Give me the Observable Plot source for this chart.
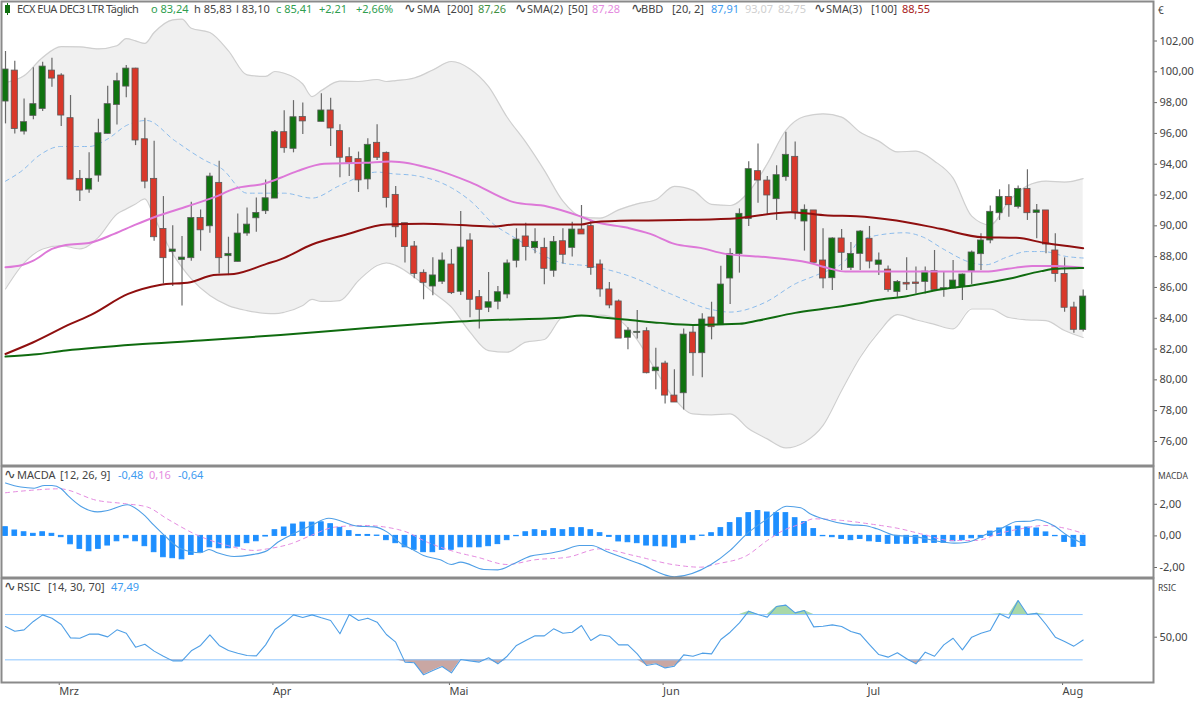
<!DOCTYPE html>
<html><head><meta charset="utf-8">
<script src="https://cdn.jsdelivr.net/npm/d3@7"></script>
<script src="https://cdn.jsdelivr.net/npm/@observablehq/plot@0.6"></script>
<style>
html,body{margin:0;padding:0;background:#fff;}
#root{position:relative;width:1200px;height:701px;overflow:hidden;font-family:"Noto Sans",sans-serif;}
#root svg{position:absolute;left:0;}
.lg{position:absolute;top:2px;left:0;width:1150px;height:14px;font-size:11px;line-height:14px;color:#444;white-space:nowrap;z-index:3;}
.lg span{position:absolute;top:0;}
.lg span.ic{font-family:'DejaVu Sans';font-size:14px;line-height:13px;}
.unit{position:absolute;left:1158px;font-size:8.5px;color:#444;z-index:3;}
</style></head><body>
<div id="root">
<div class="lg">
<i style="position:absolute;left:5px;top:3px;width:5px;height:8px;background:#107010;"></i>
<i style="position:absolute;left:7px;top:1px;width:1px;height:12px;background:#107010;"></i>
<span style="left:17px;letter-spacing:-0.52px">ECX EUA DEC3 LTR Täglich</span>
<span style="left:151px;color:#2f9e4f">o 83,24</span>
<span style="left:194px">h 85,83</span>
<span style="left:236px">l 83,10</span>
<span style="left:276px;color:#2f9e4f">c 85,41</span>
<span style="left:319px;color:#2f9e4f">+2,21</span>
<span style="left:356px;color:#2f9e4f">+2,66%</span>
<span class="ic" style="left:404px">∿</span><span style="left:417px">SMA</span><span style="left:447px">[200]</span><span style="left:478px;color:#3f8f3f">87,26</span>
<span class="ic" style="left:515px">∿</span><span style="left:527px">SMA(2)</span><span style="left:568px">[50]</span><span style="left:592px;color:#e58be0">87,28</span>
<span class="ic" style="left:631px">∿</span><span style="left:641px">BBD</span><span style="left:672px">[20, 2]</span><span style="left:711px;color:#3d9bf0">87,91</span><span style="left:745px;color:#cfcfcf">93,07</span><span style="left:778px;color:#cfcfcf">82,75</span>
<span class="ic" style="left:814px">∿</span><span style="left:826px">SMA(3)</span><span style="left:871px">[100]</span><span style="left:902px;color:#a82020">88,55</span>
</div>
<div class="lg" style="top:468px">
<span class="ic" style="left:4px">∿</span><span style="left:17px">MACDA</span><span style="left:60px">[12, 26, 9]</span><span style="left:118px;color:#3d9bf0">-0,48</span><span style="left:149px;color:#e58be0">0,16</span><span style="left:178px;color:#3d9bf0">-0,64</span>
</div>
<div class="lg" style="top:580px">
<span class="ic" style="left:4px">∿</span><span style="left:17px">RSIC</span><span style="left:48px">[14, 30, 70]</span><span style="left:111px;color:#3d9bf0">47,49</span>
</div>
<div class="unit" style="top:3px;font-size:10px">€</div>
<div class="unit" style="top:470px">MACDA</div>
<div class="unit" style="top:582px">RSIC</div>
</div>
<script>
const opens=[98.07,100.08,96.12,97.14,97.59,100.08,99.76,96.99,93.05,92.35,93.26,95.97,97.85,99.04,100.21,95.62,93.05,89.80,88.31,87.79,87.90,90.51,89.97,92.79,88.03,87.66,89.50,90.49,90.95,91.77,96.08,95.00,97.06,null,96.75,97.49,96.15,94.46,94.33,93.01,95.39,94.74,92.01,90.17,88.66,86.95,86.06,86.37,87.49,85.72,89.05,85.37,84.68,85.07,85.54,87.73,89.31,88.55,88.57,87.08,89.00,88.57,89.76,89.98,87.49,85.87,85.09,82.73,83.05,83.16,80.56,81.06,78.98,79.13,83.07,81.73,84.05,83.55,86.58,88.16,90.45,93.55,92.94,91.73,93.16,94.48,90.28,91.00,87.75,86.60,89.18,87.27,88.18,89.16,87.47,87.16,85.71,86.30,86.32,86.36,87.06,85.87,85.93,86.02,87.06,88.16,89.05,90.82,91.88,91.23,92.40,90.84,91.00,88.40,86.88,84.70,83.24];
const highs=[101.32,100.69,98.24,100.26,100.62,100.88,99.87,98.46,93.59,94.74,96.92,99.06,99.91,100.41,100.23,96.99,95.49,91.90,90.00,89.30,91.53,91.03,93.42,94.19,89.26,90.77,91.16,91.81,92.98,96.19,97.48,98.13,97.98,null,98.57,98.28,96.56,95.07,94.79,95.65,96.56,94.79,92.56,90.17,88.98,87.14,87.92,88.23,88.46,90.93,89.48,85.80,86.97,86.06,87.79,89.81,90.17,89.81,89.20,89.31,89.81,90.24,91.32,90.35,87.79,86.32,85.19,83.38,84.50,83.38,82.06,81.21,80.65,83.31,83.49,84.29,85.04,87.38,88.51,91.10,94.16,95.32,93.20,93.90,96.08,95.45,91.36,91.00,89.81,89.22,89.76,88.92,89.70,89.96,88.23,87.40,86.45,87.92,87.32,87.32,88.40,86.99,87.75,86.88,88.36,89.48,91.28,92.34,92.66,92.58,93.64,91.39,91.00,89.48,87.92,85.04,85.83];
const lows=[96.62,95.97,95.90,96.88,97.42,99.00,96.45,93.00,91.58,92.12,92.83,95.97,96.55,98.31,95.21,92.40,89.00,86.23,86.06,84.80,87.70,88.35,89.52,86.88,86.77,87.66,89.32,89.58,90.73,91.77,94.71,94.74,95.93,null,96.75,95.15,93.12,93.20,92.17,92.34,94.24,91.15,89.22,87.58,86.56,85.20,85.46,86.19,85.54,85.48,84.03,83.31,84.37,84.55,85.26,87.27,87.71,88.18,86.17,86.67,87.53,87.97,89.44,86.80,85.37,84.61,82.68,81.95,82.66,80.39,79.35,78.44,78.53,78.05,80.24,80.13,82.60,83.55,84.89,86.93,89.96,91.47,90.67,90.35,92.90,90.39,88.36,87.60,85.91,85.80,87.10,87.10,87.10,87.21,86.78,85.69,85.37,85.80,85.58,85.58,85.80,85.37,85.91,85.15,86.19,87.10,88.83,90.35,90.56,91.10,90.35,89.16,88.18,86.34,84.39,83.03,83.10];
const closes=[100.15,96.29,96.73,97.90,100.34,99.56,97.16,93.00,92.29,93.05,96.01,97.90,99.39,100.21,95.54,92.87,89.26,87.90,88.46,87.94,90.51,89.71,93.20,87.90,88.18,89.50,90.08,90.84,91.79,96.08,95.04,97.05,96.78,null,97.49,96.32,94.42,94.09,92.95,95.26,94.42,91.80,89.91,88.62,86.88,86.30,86.78,87.75,85.63,88.59,85.20,84.55,85.04,85.69,87.56,89.11,88.62,88.96,87.21,88.96,88.12,89.76,89.44,87.27,85.87,84.83,82.68,83.20,83.12,80.43,80.80,78.98,78.53,82.94,81.73,83.92,83.42,86.19,88.18,90.78,93.68,92.94,91.97,93.29,94.61,90.89,91.04,87.60,86.58,89.18,88.25,88.18,89.63,87.68,87.75,85.84,86.36,86.19,86.23,87.03,85.84,85.95,86.45,86.84,88.27,89.05,90.91,91.88,91.34,92.40,90.82,91.00,88.79,86.88,84.68,83.25,85.41];

const sma200Idx=[0,3,6.5,14,21,29.6,37,44,51,59.7,62,64,67,70.5,74,79,81,85,88.5,92,93.5,97,100.6,104,108,111.5,113,115,116];
const sma200=[81.51,81.64,81.90,82.29,82.55,82.92,83.27,83.59,83.85,84.03,84.18,84.07,83.90,83.70,83.57,83.64,83.85,84.35,84.65,84.98,85.15,85.43,85.87,86.13,86.56,87.06,87.21,87.25,87.26];
const sma50Idx=[0,1.8,3,5,6.5,9,11.7,14,16,19.6,22.5,24.6,28,29.6,31.4,34.3,38.6,41.5,46,50,54.7,58.3,61.8,63.3,67,69.4,72,74.8,77.5,81,86.5,88.6,90.4,92,105.5,107.9,110.5,113,116];
const sma50=[87.31,87.46,87.74,88.50,88.76,88.89,89.48,90.08,90.56,91.27,91.86,92.40,92.77,93.12,93.55,94.03,94.09,94.18,93.70,92.84,91.54,91.26,90.63,90.28,89.87,89.48,88.83,88.57,88.18,88.01,87.60,87.25,87.03,87.03,87.03,87.21,87.40,87.40,87.28];
const sma100Idx=[0,3,7,9.2,13.2,16.6,19.9,22.4,24.6,28.1,29.6,33,36.6,41,45,49,52.6,54.7,62,63.3,68,73.7,78.8,84.5,88.5,91.6,95.9,100.6,105.2,108.8,112,114.5,116];
const sma100=[81.68,82.44,83.63,84.22,85.58,86.16,86.34,86.81,86.88,87.53,87.82,88.79,89.42,90.09,90.13,90.05,89.96,90.09,90.09,90.24,90.35,90.39,90.50,90.89,90.67,90.63,90.35,89.81,89.26,89.22,88.87,88.68,88.55];
const bbMidIdx=[0,1.8,3.6,5.9,9,11,13,15.2,18.2,21.5,23.3,26,30,33,36,40,41.7,44,48,50.2,52.5,54.7,60,63,67,71.6,75.7,78,81.8,85,87.6,90.4,91.8,94.2,96.8,98.8,100.9,103.8,105.5,107.8,110,111.7,114.2,116];
const bbMid=[92.90,93.59,94.56,95.15,95.15,95.64,96.51,96.84,95.54,94.24,93.70,92.12,92.12,91.80,92.62,93.49,93.38,93.27,92.47,91.54,90.13,89.27,87.58,87.38,86.77,85.58,84.61,84.40,85.04,86.23,86.88,87.75,88.94,89.42,89.55,89.26,88.51,87.64,87.47,87.97,88.33,88.33,88.01,87.91];

const bandIdx=[0,2,4,6,8,10,12,13,14,15,16,18,19,20,22,24,26,28,29,30,32,33,34,36,38,40,41,42,44,46,48,50,52,54,56,58,60,62,64,66,68,70,72,74,76,78,80,82,84,86,88,90,92,94,96,98,100,102,104,106,108,110,112,114,116];
const bandUpper=[99.3,99.74,100.93,101.64,101.62,101.49,101.69,102.16,102.01,101.84,102.55,103.37,103.42,102.83,102.55,101.36,99.8,99.7,100.02,99.91,99.21,98.39,98.78,99.39,99.37,99.5,99.37,99.43,99.6,100.12,100.67,100.19,99.04,97.05,95.43,93.6,91.6,90.6,90.5,91.04,91.43,91.69,92.56,92.3,91.39,91.32,92.2,94.03,96.19,97.1,97.27,97.06,96.08,95.5,94.8,94.85,94.2,93.1,90.63,90.05,91.6,92.6,92.9,92.84,93.07];
const bandLower=[85.9,87.59,88.5,88.72,88.5,89.26,90.77,91.1,91.42,91.75,90.56,88.18,87.3,86.55,85.47,84.82,84.5,84.32,84.3,84.39,84.83,85.22,85.09,85.15,86.45,87.43,87.6,87.43,86.67,85.69,84.72,83.1,81.9,81.8,82.45,82.62,84.07,84.15,84.2,83.9,82.6,80.6,78.77,77.79,77.73,77.79,76.82,76.17,75.58,75.95,77.04,79.31,81.47,83.1,84.24,83.9,83.6,83.31,84.6,84.6,84.05,83.9,83.85,83.2,82.75];

const macdHist=[0.55,0.34,0.23,0.13,0.23,0.13,-0.08,-0.53,-0.82,-0.97,-0.82,-0.61,-0.34,-0.15,-0.34,-0.65,-1.03,-1.35,-1.41,-1.48,-1.20,-1.05,-0.72,-0.78,-0.78,-0.68,-0.46,-0.34,-0.04,0.36,0.53,0.72,0.84,0.84,0.86,0.74,0.51,0.30,0.06,0.06,0.02,-0.27,-0.46,-0.72,-0.88,-1.03,-1.03,-0.88,-0.88,-0.72,-0.72,-0.72,-0.65,-0.52,-0.27,-0.02,0.23,0.36,0.30,0.43,0.36,0.49,0.49,0.36,0.17,-0.06,-0.35,-0.40,-0.46,-0.61,-0.65,-0.67,-0.75,-0.46,-0.27,0.02,0.17,0.49,0.81,1.12,1.44,1.57,1.48,1.44,1.44,1.12,0.87,0.43,-0.02,-0.08,-0.19,-0.27,-0.19,-0.34,-0.38,-0.50,-0.50,-0.50,-0.50,-0.44,-0.44,-0.44,-0.34,-0.27,-0.15,-0.12,0.27,0.47,0.55,0.59,0.53,0.47,0.22,-0.02,-0.38,-0.69,-0.64];
const macdIdx=[0,1.65,3.1,4.2,5,6,6.7,8.1,9.9,11,13.1,14.9,16,17.1,18.9,21,21.9,22.8,24.6,26.4,28.2,29.3,31,32.9,34.8,37.9,39.7,41.1,42.6,44,45,46.8,48,49,51.5,53,54.7,56.5,58.2,60,61.8,63.1,64.7,68.3,72,75.9,78,79.8,82,84.1,85.6,86.6,88,91,92.4,93.8,95.6,98.1,99.9,102.1,103.5,105.7,107.1,108.9,110.3,111,112.8,114.3,116];
const macdLine=[3.35,3.09,3.02,3.19,3.19,2.98,2.56,1.88,1.52,1.61,1.97,1.33,0.66,0.03,-0.82,-1.07,-0.86,-1.07,-1.30,-1.20,-0.92,-0.40,0.13,0.66,1.12,0.62,0.57,0.24,-0.50,-0.92,-1.24,-1.51,-1.81,-1.66,-2.13,-2.15,-1.77,-1.28,-1.13,-0.92,-0.61,-0.61,-0.99,-1.77,-2.59,-1.83,-0.92,0.13,1.08,1.88,1.78,1.40,1.08,0.70,0.66,0.45,0.05,-0.06,-0.29,-0.46,-0.40,0.13,0.45,0.91,0.93,1.02,0.66,0.03,-0.48];
const signalIdx=[0,2.4,5.8,9.9,13,15.3,17.4,20.7,23.9,26.8,28.2,30.7,32.9,35.4,38.6,42.2,43,45.4,48.3,50.8,54,57,60.5,64,67.6,72,74.8,76.6,79.8,82,83.7,85.6,87,90,93,96.3,98.8,101.7,104.6,106.8,109.3,111.8,114,116];
const signalLine=[2.73,2.87,2.98,2.24,2.03,1.82,1.08,0.03,-0.61,-0.92,-0.82,-0.50,0.03,0.55,0.66,0.41,0.28,-0.40,-0.99,-1.35,-1.81,-1.51,-1.35,-0.82,-1.24,-1.83,-1.98,-1.77,-1.24,-0.29,0.34,0.76,1.08,0.98,0.76,0.45,0.09,-0.29,-0.29,0.13,0.45,0.66,0.49,0.16];

const rsi=[59.4,55.3,56.5,63.9,69.7,66.8,61.2,49.4,49.1,52.7,52.7,50.3,56.5,53.5,41.2,43.8,37.7,33.2,29.1,29.1,38.0,42.7,52.1,42.7,38.2,35.9,33.8,33.5,43.2,56.8,62.7,69.7,67.4,69.7,67.1,64.7,53,70,64.7,66.8,63.3,52.4,45.6,28,27.4,16.8,20.6,24.1,18.5,30.3,29.1,28,31.8,26.5,33.2,42.7,47.1,51.2,51.2,57.4,53.5,54.4,60.3,47.1,52.1,50.9,43.2,43.2,35.3,25,26.5,22.9,24.4,34.4,33.2,35.9,35.3,48,54.4,62.7,73,70,67.7,77.1,78.3,71.5,73.6,59.1,59.7,60.9,59.4,55,52.7,43.5,34.7,32.4,36.2,30.9,26.5,36.8,33.2,43.2,49.1,38.8,50,53.5,55.9,70.6,66.8,82.4,70,71.2,61.2,50,46.2,42.1,47.49];
const rsiUpper=70, rsiLower=30;

const monthIdx=[6,29,48,71,93,114];
const monthNames=["Mrz","Apr","Mai","Jun","Jul","Aug"];
const priceTicks=[76,78,80,82,84,86,88,90,92,94,96,98,100,102];
const macdTicks=[-2,0,2];
const rsiTicks=[50];

const candles=opens.map((o,i)=>({i,o,h:highs[i],l:lows[i],c:closes[i]})).filter(d=>d.o!=null);
const band=bandIdx.map((x,k)=>({x,u:bandUpper[k],l:bandLower[k]}));
const zip=(xs,ys)=>xs.map((x,k)=>({x,y:ys[k]}));
const hist=macdHist.map((v,i)=>({i,v}));
const rsiData=rsi.map((v,i)=>({i,v}));
const fmt=d=>d3.format(".2f")(d).replace(".",",").replace("−","-");

const xDomain=[-0.43,123.57];
const axisCol="#8a8a8a", txt="#444";
const smooth="monotone-x";
const base={width:1200,marginLeft:1,marginRight:47,style:{fontFamily:'"Noto Sans",sans-serif',fontSize:"11px",color:txt,background:"none",overflow:"visible"}};
const yAxis=(ticks)=>Plot.axisY({anchor:"right",ticks,tickFormat:fmt,tickSize:3,tickPadding:3,label:null,stroke:"#666",fill:txt});
const frame=()=>Plot.frame({stroke:axisCol,strokeWidth:2});
const X=d=>d.i;
const hw=0.33;

const main=Plot.plot({...base,height:466,marginTop:1,marginBottom:1,
  x:{domain:xDomain,axis:null},
  y:{domain:[74.44,104.565]},
  marks:[
    Plot.areaY(band,{x:"x",y1:"l",y2:"u",fill:"#f0f0f0",curve:smooth}),
    Plot.line(band,{x:"x",y:"u",stroke:"#cfcfcf",strokeWidth:1.2,curve:smooth}),
    Plot.line(band,{x:"x",y:"l",stroke:"#cfcfcf",strokeWidth:1.2,curve:smooth}),
    Plot.line(zip(bbMidIdx,bbMid),{x:"x",y:"y",stroke:"#8cbcec",strokeWidth:1,strokeDasharray:"4,4",curve:smooth}),
    Plot.ruleX(candles,{x:X,y1:"l",y2:"h",stroke:"#6a6a6a",strokeWidth:1.2}),
    Plot.rect(candles,{x1:d=>d.i-hw,x2:d=>d.i+hw,y1:"o",y2:"c",fill:d=>d.c>=d.o?"#0f730f":"#d9382a",stroke:"#5a5a5a",strokeWidth:0.8}),
    Plot.line(zip(sma50Idx,sma50),{x:"x",y:"y",stroke:"#dd78d8",strokeWidth:2,curve:smooth}),
    Plot.line(zip(sma200Idx,sma200),{x:"x",y:"y",stroke:"#0f6b0f",strokeWidth:2,curve:smooth}),
    Plot.line(zip(sma100Idx,sma100),{x:"x",y:"y",stroke:"#8f0f0f",strokeWidth:2,curve:smooth}),
    yAxis(priceTicks),
    frame()
  ]});
main.style.top="0px";

const macd=Plot.plot({...base,height:113,marginTop:1,marginBottom:1,
  x:{domain:xDomain,axis:null},
  y:{domain:[-2.633,4.392]},
  marks:[
    Plot.rect(hist,{x1:d=>d.i-0.25,x2:d=>d.i+0.25,y1:()=>0,y2:"v",fill:"#1e8fff",stroke:"#1e8fff",strokeWidth:1}),
    Plot.line(zip(signalIdx,signalLine),{x:"x",y:"y",stroke:"#e58be0",strokeWidth:1,strokeDasharray:"4,4",curve:smooth}),
    Plot.line(zip(macdIdx,macdLine),{x:"x",y:"y",stroke:"#4f9fe6",strokeWidth:1.1,curve:smooth}),
    yAxis(macdTicks),
    frame()
  ]});
macd.style.top="465px";

const rsiPlot=Plot.plot({...base,height:124,marginTop:1,marginBottom:19,
  x:{domain:xDomain,axis:null},
  y:{domain:[10,101.83]},
  marks:[
    Plot.areaY(rsiData,{x:X,y1:()=>rsiLower,y2:d=>Math.min(d.v,rsiLower),fill:"#c9a7a3"}),
    Plot.areaY(rsiData,{x:X,y1:()=>rsiUpper,y2:d=>Math.max(d.v,rsiUpper),fill:"#a8d8a8"}),
    Plot.ruleY([rsiUpper,rsiLower],{x1:0,x2:116,stroke:"#8cc6ff",strokeWidth:1}),
    Plot.line(rsiData,{x:X,y:"v",stroke:"#4f9fe6",strokeWidth:1.1}),
    yAxis(rsiTicks),
    Plot.axisX({ticks:monthIdx,tickFormat:d=>monthNames[monthIdx.indexOf(d)],tickSize:3,tickPadding:2,label:null,textAnchor:"start",dx:-2,stroke:"#666",fill:txt}),
    frame()
  ]});
rsiPlot.style.top="577px";

const root=document.getElementById("root");
root.append(main,macd,rsiPlot);
</script>
</body></html>
